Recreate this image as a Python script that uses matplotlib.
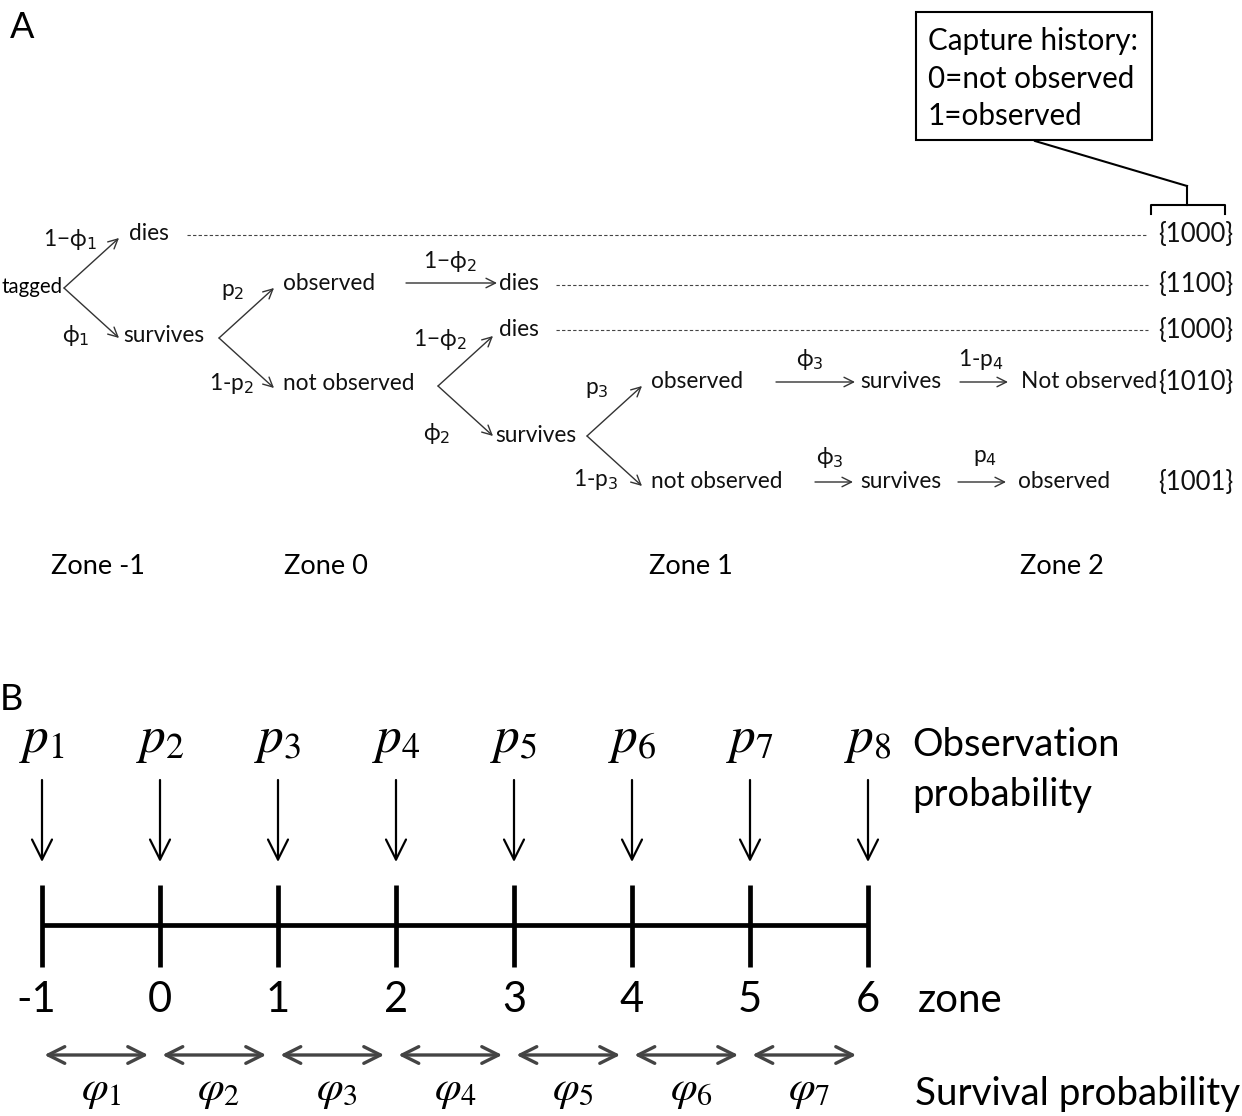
import numpy as np
import matplotlib
matplotlib.use("Agg")
import matplotlib.pyplot as plt
from matplotlib.patches import Rectangle

plt.rcParams['font.family'] = ['Lato', 'DejaVu Sans']

W, H = 1242, 1116

# ---- panel A: capture-history tree ----
node_txt = ["dies", "survives", "observed", "not observed", "dies", "dies", "survives",
            "observed", "not observed", "survives", "Not observed", "survives", "observed"]
node_x = [129, 123, 283, 283, 499, 499, 495, 651, 651, 860, 1021, 860, 1018]
node_y = [234, 336, 284, 383, 284, 330, 436, 381, 481, 382, 382, 482, 482]

hist_txt = ["{1000}", "{1100}", "{1000}", "{1010}", "{1001}"]
hist_y = [235, 285, 330, 382, 482]
dash_x0 = [187, 556, 556]

fork_xy = [(64, 288), (219, 338), (438, 386), (587, 436)]
fork_dx = 55
fork_dy = [50, 50, 50, 50]

step_arrows = [(406, 497, 283), (776, 855, 382), (960, 1008, 382),
               (815, 853, 482), (958, 1006, 482)]

edge_txt = ["1\u2212\u03d5$_1$", "\u03d5$_1$", "p$_2$", "1-p$_2$", "1\u2212\u03d5$_2$",
            "1\u2212\u03d5$_2$", "\u03d5$_2$", "p$_3$", "1-p$_3$", "\u03d5$_3$",
            "1-p$_4$", "\u03d5$_3$", "p$_4$"]
edge_x = [70, 76, 233, 231, 450, 440, 437, 597, 596, 810, 981, 830, 985]
edge_y = [240, 336, 292, 383, 262, 340, 433, 390, 479, 360, 359, 458, 457]

zone_txt = ["Zone -1", "Zone 0", "Zone 1", "Zone 2"]
zone_cx = [98, 326, 691, 1062]

box_lines = ["Capture history:", "0=not observed", "1=observed"]

# ---- panel B: timeline ----
zones = [-1, 0, 1, 2, 3, 4, 5, 6]
p_labels = ["$p_%d$" % i for i in range(1, 9)]
phi_labels = ["$\\varphi_%d$" % i for i in range(1, 8)]

fig = plt.figure(figsize=(W / 100, H / 100), dpi=100)
ax = fig.add_axes([0, 0, 1, 1])
ax.set_xlim(0, W)
ax.set_ylim(H, 0)
ax.axis('off')

gc = '#333333'
fs = 16.3

ax.text(10, 28, "A", fontsize=26, va='center', ha='left')
ax.text(63, 287, "tagged", fontsize=14.8, va='center', ha='right')
for t, x, y in zip(node_txt, node_x, node_y):
    ax.text(x, y, t, fontsize=fs, va='center', ha='left', color='#111111')
for t, x, y in zip(edge_txt, edge_x, edge_y):
    ax.text(x, y, t, fontsize=fs, va='center', ha='center', color='#111111')

for (x, y), dy in zip(fork_xy, fork_dy):
    for s in (-1, 1):
        ax.annotate('', xy=(x + fork_dx, y + s * dy), xytext=(x, y),
                    arrowprops=dict(arrowstyle='->', color=gc, lw=1.0,
                                    shrinkA=0, shrinkB=0, mutation_scale=17))
for x0, x1, y in step_arrows:
    ax.annotate('', xy=(x1, y), xytext=(x0, y),
                arrowprops=dict(arrowstyle='->', color=gc, lw=1.0,
                                shrinkA=0, shrinkB=0, mutation_scale=17))

for x0, y in zip(dash_x0, hist_y[:3]):
    ax.plot([x0, 1148], [y, y], color='#444444', lw=0.8, dashes=(3, 2))
for t, y in zip(hist_txt, hist_y):
    ax.text(1233, y, t, fontsize=18.5, va='center', ha='right', color='#111111')

for t, cx in zip(zone_txt, zone_cx):
    ax.text(cx, 567, t, fontsize=19.5, va='center', ha='center')

ax.add_patch(Rectangle((916, 12), 236, 128, fill=False, lw=1.5, ec='black'))
for i, t in enumerate(box_lines):
    ax.text(928, 41 + 37.5 * i, t, fontsize=21.3, va='center', ha='left')
ax.plot([1035, 1187], [141, 186], color='black', lw=1.5)
ax.plot([1187, 1187], [186, 205], color='black', lw=1.5)
ax.plot([1151, 1151, 1225, 1225], [214, 205, 205, 214], color='black', lw=1.5)

# panel B in zone units
axb = fig.add_axes([0, 0, 1, 1])
x_per = 118.0
axb.set_xlim(-1 - 42 / x_per, -1 + (W - 42) / x_per)
axb.set_ylim(H, 0)
axb.axis('off')
axb.patch.set_alpha(0)

ax.text(0, 700, "B", fontsize=26, va='center', ha='left')
axb.plot([zones[0], zones[-1]], [925, 925], color='black', lw=3.4, solid_capstyle='butt')
for i, z in enumerate(zones):
    axb.plot([z, z], [885, 967], color='black', lw=3.4, solid_capstyle='butt')
    axb.text(z, 742, p_labels[i], fontsize=37, math_fontfamily='stix',
             va='center', ha='center')
    axb.annotate('', xy=(z, 862), xytext=(z, 780),
                 arrowprops=dict(arrowstyle='->', color='black', lw=1.6,
                                 shrinkA=0, shrinkB=0, mutation_scale=36))
    axb.text(z - (0.05 if z < 0 else 0), 1000, str(z), fontsize=30, va='center', ha='center')
for i, z in enumerate(zones[:-1]):
    axb.annotate('', xy=(z + 0.9, 1055), xytext=(z + 0.02, 1055),
                 arrowprops=dict(arrowstyle='<->', color='#444444', lw=2.4,
                                 shrinkA=0, shrinkB=0, mutation_scale=30))
    axb.text(z + 0.5, 1092, phi_labels[i], fontsize=31, math_fontfamily='stix',
             va='center', ha='center')

ax.text(912, 745, "Observation", fontsize=27.5, va='center', ha='left')
ax.text(912, 795, "probability", fontsize=27.5, va='center', ha='left')
ax.text(918, 1000, "zone", fontsize=29, va='center', ha='left')
ax.text(915, 1094, "Survival probability", fontsize=27.8, va='center', ha='left')

fig.savefig("out.png", dpi=100)
